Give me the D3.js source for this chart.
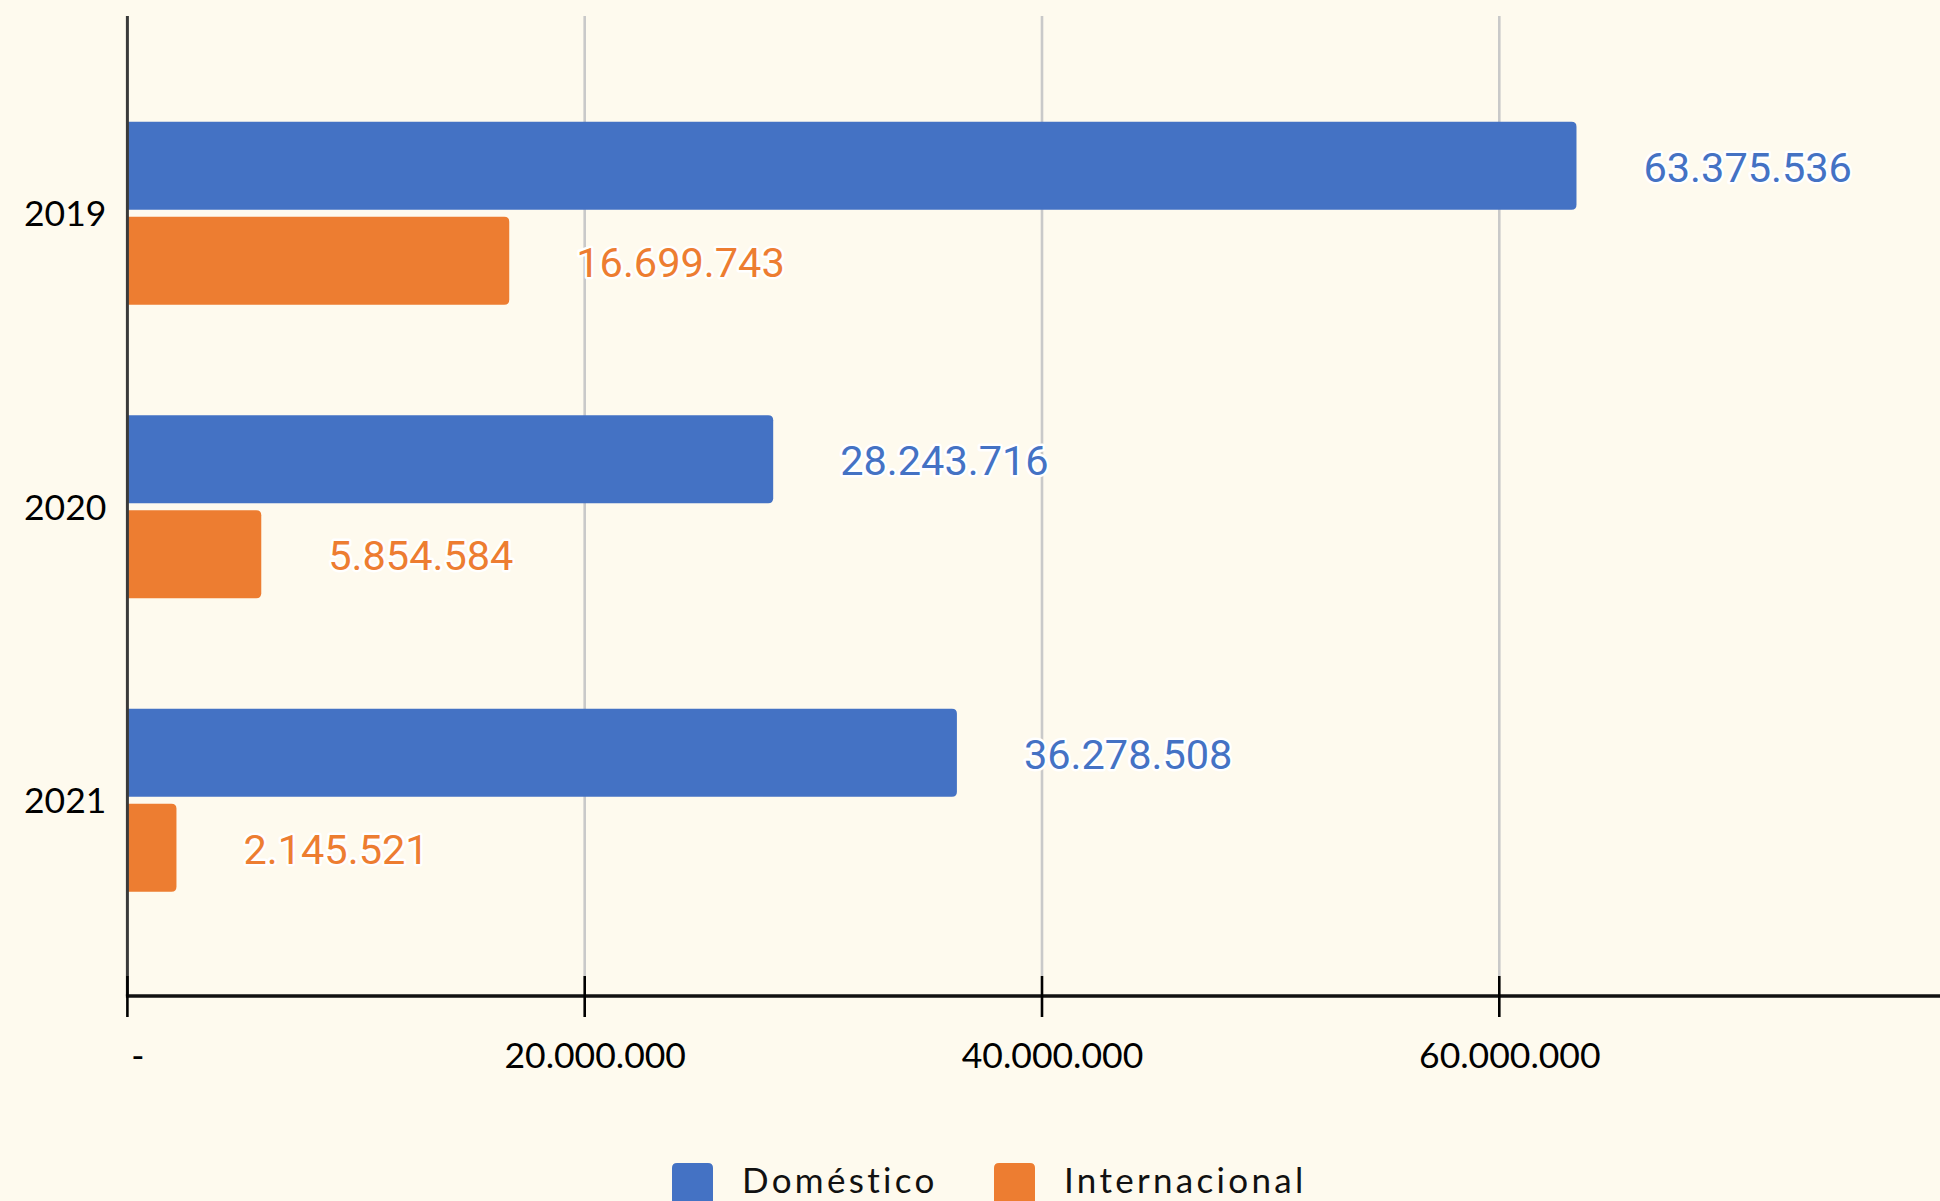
<!DOCTYPE html>
<html>
<head>
<meta charset="utf-8">
<script src="https://cdn.jsdelivr.net/npm/d3@7/dist/d3.min.js"></script>
<style>
  html, body { margin: 0; padding: 0; background: #FEFAEE; }
  svg { display: block; }
</style>
</head>
<body>
<svg id="chart" width="1940" height="1201"></svg>
<script>
const years = ["2019", "2020", "2021"];
const seriesNames = ["Doméstico", "Internacional"];
const domestico = [63375536, 28243716, 36278508];
const internacional = [16699743, 5854584, 2145521];
const xTickValues = [0, 20000000, 40000000, 60000000];
const xTickLabels = ["-", "20.000.000", "40.000.000", "60.000.000"];
const colors = ["#4472C4", "#ED7D31"];

const W = 1940, H = 1201;
const svg = d3.select("#chart");
svg.append("rect").attr("width", W).attr("height", H).attr("fill", "#FEFAEE");

const x = d3.scaleLinear().domain([0, 80000000]).range([127.4, 127.4 + 4 * 457.3]);
const y0 = d3.scaleBand().domain(years).range([66.5, 947]).paddingInner(0.3765).paddingOuter(0.188);
const y1 = d3.scaleBand().domain(seriesNames).range([0, y0.bandwidth()]).paddingInner(0.0737);

const gridTop = 16, axisY = 996;

// gridlines
svg.append("g").selectAll("line").data(xTickValues.slice(1)).join("line")
  .attr("x1", d => x(d)).attr("x2", d => x(d))
  .attr("y1", gridTop).attr("y2", axisY - 20)
  .attr("stroke", "#C9C9C9").attr("stroke-width", 2.6);

const fmt = d3.formatLocale({decimal: ",", thousands: ".", grouping: [3], currency: ["", ""]}).format(",d");

function rr(x0, yTop, w, h, r) {
  r = Math.min(r, w, h / 2);
  return `M${x0},${yTop}H${x0 + w - r}Q${x0 + w},${yTop} ${x0 + w},${yTop + r}` +
         `V${yTop + h - r}Q${x0 + w},${yTop + h} ${x0 + w - r},${yTop + h}H${x0}Z`;
}

const rows = years.map((yr, i) => ({year: yr, vals: [domestico[i], internacional[i]]}));

const groups = svg.append("g").selectAll("g").data(rows).join("g")
  .attr("transform", d => `translate(0,${y0(d.year)})`);

groups.selectAll("path").data(d => d.vals.map((v, j) => ({v, j}))).join("path")
  .attr("d", d => rr(x(0), y1(seriesNames[d.j]), x(d.v) - x(0), y1.bandwidth(), 5))
  .attr("fill", d => colors[d.j]);

groups.selectAll("text.val").data(d => d.vals.map((v, j) => ({v, j}))).join("text")
  .attr("class", "val")
  .attr("x", d => x(d.v) + 67)
  .attr("y", d => y1(seriesNames[d.j]) + y1.bandwidth() / 2 + 16)
  .attr("font-family", "Roboto")
  .attr("font-size", 41.5)
  .attr("fill", d => colors[d.j])
  .attr("stroke", "#FFFFFF").attr("stroke-width", 5).attr("stroke-linejoin", "round")
  .attr("paint-order", "stroke")
  .text(d => fmt(d.v));

// y axis line
svg.append("line").attr("x1", x(0)).attr("x2", x(0)).attr("y1", gridTop).attr("y2", axisY)
  .attr("stroke", "#3A3A3A").attr("stroke-width", 3);

// year labels
svg.append("g").selectAll("text").data(years).join("text")
  .attr("x", x(0) - 21)
  .attr("y", d => y0(d) + y0.bandwidth() / 2 + 13)
  .attr("text-anchor", "end")
  .attr("font-family", "Lato").attr("font-size", 35.5).attr("fill", "#000")
  .text(d => d);

// x axis
const xAxis = d3.axisBottom(x).tickValues(xTickValues).tickSize(0)
  .tickFormat((d, i) => xTickLabels[i]);
const gx = svg.append("g").attr("transform", `translate(0,${axisY})`).call(xAxis);
gx.select(".domain").remove();
gx.selectAll("text").attr("font-family", "Lato").attr("font-size", 35.5).attr("fill", "#000")
  .attr("dy", 0).attr("y", 72).attr("dx", 10);
svg.append("line").attr("x1", x(0) - 1.5).attr("x2", W).attr("y1", axisY).attr("y2", axisY)
  .attr("stroke", "#111").attr("stroke-width", 3.4);
svg.append("g").selectAll("line").data(xTickValues).join("line")
  .attr("x1", d => x(d)).attr("x2", d => x(d))
  .attr("y1", axisY - 20).attr("y2", axisY + 21)
  .attr("stroke", "#000").attr("stroke-width", 2.6);

// legend
const legendX = [672, 994];
const legendTextX = [742, 1064];
const lg = svg.append("g").selectAll("g").data(seriesNames).join("g");
lg.append("path")
  .attr("d", (d, i) => {
    const x0 = legendX[i], yT = 1163, w = 41, h = 60, r = 5;
    return `M${x0},${yT + h}V${yT + r}Q${x0},${yT} ${x0 + r},${yT}H${x0 + w - r}Q${x0 + w},${yT} ${x0 + w},${yT + r}V${yT + h}Z`;
  })
  .attr("fill", (d, i) => colors[i]);
lg.append("text")
  .attr("x", (d, i) => legendTextX[i]).attr("y", 1193)
  .attr("font-family", "Lato").attr("font-size", 35).attr("letter-spacing", 3.3)
  .attr("fill", "#111")
  .text(d => d);
</script>
</body>
</html>
